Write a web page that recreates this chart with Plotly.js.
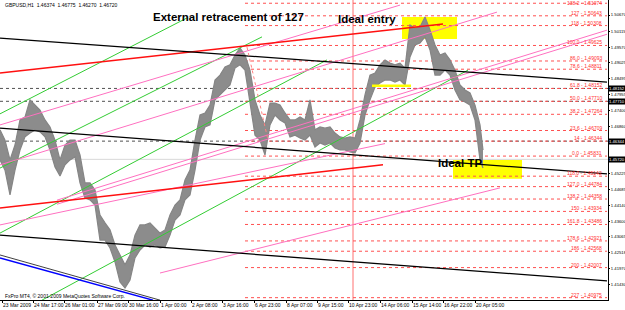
<!DOCTYPE html>
<html><head><meta charset="utf-8">
<script src="https://cdn.plot.ly/plotly-3.0.1.min.js"></script>
<style>html,body{margin:0;padding:0;background:#fff}#c{width:625px;height:310px}</style>
</head><body><div id="c"></div>
<script>
// ---- price data (bar index, hourly bars, sampled) ----
const barX = [0,5,10,15,20,25,30,35,40,45,50,55,60,65,70,75,80,85,90,95,100,105,110,115,120,125,130,135,140,145,150,155,160,165,170,175,180,185,190,195,200,205,210,215,220,225,230,235,240,245,250,255,260,265,270,275,280,285,290,295,300,305,310,315,320,325,330,335,340,345,350,355,360,365,370,375,380,385,390,395,400,405,410,415,420,425,430,435,440,445,450,455,460,465,470,475,480,483];
const barHigh = [1.4673,1.4638,1.4570,1.4621,1.4707,1.4717,1.4776,1.4758,1.4741,1.4707,1.4683,1.4638,1.4570,1.4621,1.4638,1.4638,1.4587,1.4491,1.4491,1.4467,1.4381,1.4354,1.4330,1.4278,1.4244,1.4210,1.4244,1.4312,1.4347,1.4347,1.4354,1.4336,1.4319,1.4330,1.4381,1.4415,1.4433,1.4501,1.4535,1.4638,1.4724,1.4731,1.4758,1.4844,1.4861,1.4889,1.4896,1.4930,1.4954,1.4930,1.4878,1.4776,1.4724,1.4690,1.4765,1.4765,1.4758,1.4731,1.4707,1.4707,1.4717,1.4707,1.4776,1.4673,1.4683,1.4679,1.4683,1.4662,1.4649,1.4645,1.4649,1.4645,1.4707,1.4793,1.4861,1.4868,1.4896,1.4913,1.4902,1.4896,1.4902,1.4885,1.5033,1.5022,1.5026,1.5060,1.5016,1.4964,1.4930,1.4937,1.4913,1.4878,1.4827,1.4810,1.4800,1.4758,1.4690,1.4604];
const barLow = [1.4570,1.4535,1.4450,1.4535,1.4604,1.4649,1.4662,1.4673,1.4666,1.4649,1.4604,1.4546,1.4515,1.4553,1.4570,1.4580,1.4491,1.4439,1.4433,1.4415,1.4295,1.4295,1.4268,1.4220,1.4151,1.4131,1.4158,1.4234,1.4261,1.4278,1.4271,1.4278,1.4268,1.4271,1.4312,1.4364,1.4381,1.4433,1.4450,1.4535,1.4638,1.4683,1.4690,1.4776,1.4793,1.4810,1.4827,1.4885,1.4896,1.4878,1.4758,1.4655,1.4638,1.4587,1.4690,1.4724,1.4707,1.4697,1.4649,1.4655,1.4645,1.4638,1.4655,1.4614,1.4628,1.4621,1.4628,1.4611,1.4604,1.4604,1.4597,1.4594,1.4628,1.4724,1.4776,1.4820,1.4834,1.4844,1.4844,1.4837,1.4844,1.4827,1.4923,1.4964,1.4971,1.4992,1.4947,1.4861,1.4861,1.4878,1.4861,1.4810,1.4776,1.4769,1.4758,1.4707,1.4570,1.4542];

// ---- x-axis (bar index) labels ----
const dateTickBars = [2,33,64,97,128,160,191,222,254,286,317,348,380,412,443,475];
const dateTickText = ['23 Mar 2009','24 Mar 17:00','26 Mar 01:00','27 Mar 09:00','30 Mar 16:00','1 Apr 00:00','2 Apr 08:00','3 Apr 16:00','6 Apr 23:00','8 Apr 07:00','9 Apr 15:00','10 Apr 23:00','14 Apr 06:00','15 Apr 14:00','16 Apr 22:00','20 Apr 05:00'];

// ---- price-axis labels (two are hidden behind marked prices) ----
const priceTicks = [1.50670,1.50115,1.49570,1.49025,1.48495,1.47955,1.47400,1.46860,1.45225,1.44685,1.44140,1.43600,1.43065,1.42518,1.41970,1.41430,1.40890];
const markedPrices = [1.48152,1.47710,1.46344,1.45720];

// ---- Fibonacci levels ----
const fibLevels = ['138.2','127','118','100.0','86.0','78.6','61.8','50.0','38.2','23.6','14','0.0','118.0','127.0','138.2','150','161.8','178.6','186','200','227'];
const fibPrices = [1.51074,1.50643,1.50308,1.49625,1.49093,1.48811,1.48152,1.47710,1.47264,1.46709,1.46344,1.45831,1.45142,1.44784,1.44358,1.43934,1.43486,1.42921,1.42568,1.42007,1.40975];
const fibStartBar = 245, fibEndBar = 607;

// ---- trend lines [bar0, price0, bar1, price1] ----
const blackLines = [[0,1.4988,607,1.4837],[0,1.4679,607,1.4522],[0,1.4312,607,1.4155]];
const grayLines = [[0,1.4244,160,1.4089]];
const blueLines = [[0,1.4234,153,1.4089]];
const redLines = [[0,1.4868,443,1.5036],[0,1.4405,383,1.4553]];
const greenLines = [[0,1.4728,187,1.5057],[0,1.4542,262,1.4992],[0,1.4319,327,1.4913],[42,1.4089,468,1.4878]];
const pinkLines = [[0,1.4690,400,1.5101],[0,1.4553,497,1.5077],[57,1.4432,607,1.5015],[57,1.4418,607,1.5001],[0,1.4347,385,1.4626],[160,1.4182,500,1.4474]];
const redVerticalBar = 353;
const dottedLines = [[247,1.4957,268,1.4638]];
const dashedFull = [1.48152,1.47710,1.46344];
const bidPrice = 1.45720;

// ---- annotations / boxes ----
const entryBox = [402,1.5060,457,1.4985];
const tpBox = [453,1.4570,522,1.4505];
const yellowMark = [372,1.4824,411,1.4824];

const shapes = [];
const line = (a, color, width, dash) => shapes.push({type:'line', xref:'x', yref:'y', x0:a[0], y0:a[1], x1:a[2], y1:a[3], line:{color:color, width:width, dash:dash||'solid'}, layer:'above'});
shapes.push({type:'rect', xref:'x', yref:'y', x0:entryBox[0], y0:entryBox[1], x1:entryBox[2], y1:entryBox[3], fillcolor:'#ffff00', line:{width:0}, layer:'below'});
shapes.push({type:'rect', xref:'x', yref:'y', x0:tpBox[0], y0:tpBox[1], x1:tpBox[2], y1:tpBox[3], fillcolor:'#ffff00', line:{width:0}, layer:'below'});
fibPrices.forEach(p => shapes.push({type:'line', xref:'x', yref:'y', x0:fibStartBar, x1:fibEndBar, y0:p, y1:p, line:{color:'#ff5050', width:1, dash:'3px,3px'}, layer:'below'}));
dashedFull.forEach(p => shapes.push({type:'line', xref:'paper', yref:'y', x0:0, x1:1, y0:p, y1:p, line:{color:'#505050', width:1, dash:'3px,3px'}, layer:'below'}));
shapes.push({type:'line', xref:'paper', yref:'y', x0:0, x1:1, y0:bidPrice, y1:bidPrice, line:{color:'#d8d8d8', width:1}, layer:'below'});
shapes.push({type:'line', xref:'x', yref:'paper', x0:redVerticalBar, x1:redVerticalBar, y0:0, y1:1, line:{color:'#ff7070', width:1}, layer:'below'});
greenLines.forEach(a => line(a, '#33cc33', 1));
pinkLines.forEach(a => line(a, '#ff70c0', 1));
redLines.forEach(a => line(a, '#ff1010', 1.5));
blackLines.forEach(a => line(a, '#000000', 1.2));
grayLines.forEach(a => line(a, '#404040', 1));
blueLines.forEach(a => line(a, '#0000ff', 1.5));
dottedLines.forEach(a => line(a, '#ff8080', 1, 'dot'));
line(yellowMark, '#ffff00', 2.5);

const annotations = [];
const boldFont = {family:'Liberation Sans, Arial, sans-serif', size:11.5, color:'#000'};
const axisFont = {family:'Liberation Sans, Arial', size:4.2, color:'#000'};
annotations.push({xref:'x', yref:'paper', x:151, y:1-17/300, text:'<b>External retracement of 127</b>', showarrow:false, xanchor:'left', yanchor:'middle', font:boldFont});
annotations.push({xref:'x', yref:'paper', x:336, y:1-19/300, text:'<b>Ideal entry</b>', showarrow:false, xanchor:'left', yanchor:'middle', font:boldFont});
annotations.push({xref:'x', yref:'paper', x:436, y:1-163/300, text:'<b>Ideal TP</b>', showarrow:false, xanchor:'left', yanchor:'middle', font:boldFont});
fibLevels.forEach((l,i) => {
  const nearTop = fibPrices[i] > 1.5100;
  annotations.push({xref:'paper', yref:'y', x:0.993, y:fibPrices[i], text:l+' - '+fibPrices[i].toFixed(5), showarrow:false, xanchor:'right', yanchor: nearTop ? 'middle' : 'bottom', yshift: nearTop ? 0 : -2, font:{family:'Liberation Sans, Arial', size:5, color:'#ff3030'}});
});
markedPrices.forEach(p => annotations.push({xref:'paper', yref:'y', x:1, y:p, text:p.toFixed(5), showarrow:false, xanchor:'left', yanchor:'middle', xshift:0, bgcolor:'#000', borderpad:0, font:{family:'Liberation Sans, Arial', size:4.2, color:'#fff'}}));
annotations.push({xref:'paper', yref:'paper', x:0.005, y:1-5/300, text:'GBPUSD,H1  1.46374  1.46775  1.46270  1.46720', showarrow:false, xanchor:'left', yanchor:'middle', font:{family:'Liberation Sans, Arial', size:5, color:'#000'}});
annotations.push({xref:'paper', yref:'paper', x:0.005, y:1-296/300, text:'FxPro MT4, © 2001-2009 MetaQuotes Software Corp.', showarrow:false, xanchor:'left', yanchor:'middle', font:{family:'Liberation Sans, Arial', size:5, color:'#000'}});

const traces = [
  {x:barX, y:barHigh, type:'scatter', mode:'lines', line:{color:'#858585', width:1.2}, hoverinfo:'skip', showlegend:false},
  {x:barX, y:barLow, type:'scatter', mode:'lines', line:{color:'#858585', width:1.2}, fill:'tonexty', fillcolor:'#8c8c8c', hoverinfo:'skip', showlegend:false}
];

const layout = {
  width:625, height:310, margin:{l:0, r:17, t:0, b:10},
  paper_bgcolor:'#fff', plot_bgcolor:'#fff', showlegend:false,
  xaxis:{range:[0,608], tickmode:'array', tickvals:dateTickBars, ticktext:dateTickText, tickangle:0, automargin:false, ticks:'outside', ticklen:2, tickcolor:'#000', ticklabelposition:'outside right', showgrid:false, zeroline:false, showline:true, linecolor:'#000', mirror:true, tickfont:{family:'Liberation Sans, Arial', size:5, color:'#000'}, fixedrange:true},
  yaxis:{range:[1.40895,1.51185], side:'right', automargin:false, tickmode:'array', tickvals:priceTicks, ticktext:priceTicks.map(v=>v.toFixed(5)), ticks:'outside', ticklen:1, ticklabelstandoff:0, tickcolor:'#000', showgrid:false, zeroline:false, showline:true, linecolor:'#000', mirror:true, tickfont:axisFont, fixedrange:true},
  shapes:shapes, annotations:annotations
};
Plotly.newPlot('c', traces, layout, {staticPlot:true, displayModeBar:false});
</script></body></html>
